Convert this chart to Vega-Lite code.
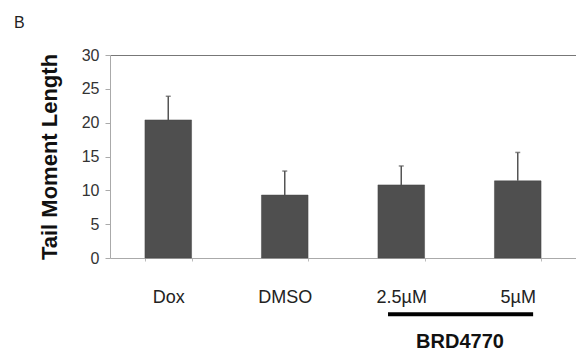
{
  "$schema": "https://vega.github.io/schema/vega-lite/v6.json",
  "width": 466,
  "height": 203,
  "autosize": {"type": "none"},
  "padding": {"left": 110, "top": 55, "right": 0, "bottom": 96},
  "background": "white",
  "config": {
    "font": "Liberation Sans",
    "view": {"stroke": null}
  },
  "title": {
    "text": "B",
    "anchor": "start",
    "frame": "group",
    "dx": -96,
    "offset": 3,
    "fontSize": 16,
    "fontWeight": "normal",
    "color": "#222",
    "baseline": "alphabetic"
  },
  "datasets": {
    "bars": [
      {"group": "Dox", "mean": 20.4, "upper": 23.9},
      {"group": "DMSO", "mean": 9.3, "upper": 12.85},
      {"group": "2.5µM", "mean": 10.8, "upper": 13.6},
      {"group": "5µM", "mean": 11.4, "upper": 15.6}
    ],
    "annot": [
      {"from": "2.5µM", "to": "5µM", "lineY": -8.3, "textY": -12.4, "label": "BRD4770"}
    ]
  },
  "layer": [
    {
      "data": {"name": "bars"},
      "mark": {"type": "bar", "color": "#4f4f4f", "stroke": "#444", "strokeWidth": 0.5},
      "encoding": {
        "x": {
          "field": "group",
          "type": "nominal",
          "scale": {"domain": ["Dox", "DMSO", "2.5µM", "5µM"], "paddingInner": 0.6, "paddingOuter": 0.3},
          "axis": {
            "title": null,
            "labelAngle": 0,
            "labelFontSize": 18,
            "labelColor": "#222",
            "labelPadding": 27,
            "tickBand": "extent",
            "tickSize": 3,
            "tickColor": "#bbb",
            "domainColor": "#aaa"
          }
        },
        "y": {
          "field": "mean",
          "type": "quantitative",
          "scale": {"domain": [0, 30], "nice": false},
          "axis": {
            "title": "Tail Moment Length",
            "titleFontSize": 22,
            "titleFontWeight": "bold",
            "titleColor": "#111",
            "titlePadding": 20,
            "tickCount": 6,
            "labelOverlap": false,
            "labelFontSize": 16,
            "labelColor": "#333",
            "labelPadding": 6,
            "tickSize": 5,
            "tickColor": "#aaa",
            "domainColor": "#aaa",
            "grid": true,
            "gridColor": "#777",
            "gridOpacity": {"condition": {"test": "datum.value === 30", "value": 1}, "value": 0}
          }
        }
      }
    },
    {
      "data": {"name": "bars"},
      "mark": {"type": "rule", "color": "#555", "strokeWidth": 1.5},
      "encoding": {
        "x": {"field": "group", "type": "nominal"},
        "y": {"field": "mean", "type": "quantitative"},
        "y2": {"field": "upper"}
      }
    },
    {
      "data": {"name": "bars"},
      "mark": {"type": "tick", "color": "#555", "thickness": 1.5, "size": 5},
      "encoding": {
        "x": {"field": "group", "type": "nominal"},
        "y": {"field": "upper", "type": "quantitative"}
      }
    },
    {
      "data": {"name": "annot"},
      "mark": {"type": "rule", "color": "#000", "strokeWidth": 4, "clip": false},
      "encoding": {
        "x": {"field": "from", "type": "nominal", "bandPosition": 0.216},
        "x2": {"field": "to", "bandPosition": 0.83},
        "y": {"field": "lineY", "type": "quantitative"}
      }
    },
    {
      "data": {"name": "annot"},
      "mark": {"type": "text", "fontSize": 20, "fontWeight": "bold", "color": "#111", "clip": false, "baseline": "middle", "align": "center"},
      "encoding": {
        "x": {"field": "from", "type": "nominal", "bandPosition": 1.76},
        "y": {"field": "textY", "type": "quantitative"},
        "text": {"field": "label"}
      }
    }
  ]
}
